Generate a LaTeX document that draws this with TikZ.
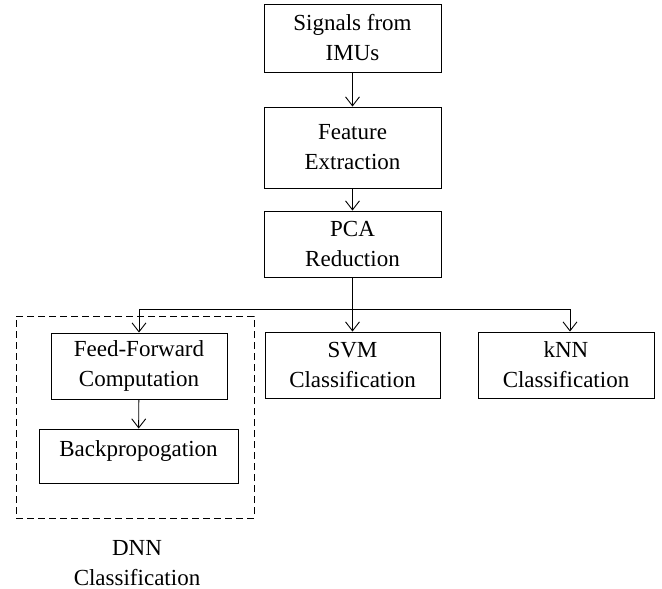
\documentclass[tikz,border=0pt]{standalone}
\usepackage{fontspec}
\setmainfont{Liberation Serif}
\usetikzlibrary{arrows.meta}

\begin{document}
\begin{tikzpicture}[x=1pt, y=-1pt,
		stage/.style={draw, thick, line width=0.9pt, align=center, inner sep=0pt,
			minimum width=177pt, minimum height=67pt,
			font=\fontsize{23}{30}\selectfont},
		flow/.style={line width=0.9pt, -{Straight Barb[length=9pt, width=14pt, line width=0.9pt]}}]
			\useasboundingbox (0,0) rectangle (662,589);

			% Obere Kette
			\node[stage, minimum height=68pt] (sig) at (352.5,38) {Signals from\\IMUs};
			\node[stage, minimum height=81pt] (feat) at (352.5,147.5) {Feature\\Extraction};
			\node[stage, minimum height=66pt] (pca) at (352.5,244) {PCA\\Reduction};

			% Klassifikatoren
			\node[stage, minimum width=175pt, minimum height=66pt] (svm) at (352.5,365) {SVM\\Classification};
			\node[stage, minimum width=176pt, minimum height=66pt] (knn) at (566,365) {kNN\\Classification};

			% DNN Kasten
			\node[stage, minimum width=176pt, minimum height=66pt] (ff) at (139,366) {Feed-Forward\\Computation};
			\node[stage, minimum width=199pt, minimum height=0pt, text height=27pt, text depth=27pt] (bp) at (138.5,456) {Backpropogation};
			\node[draw, dashed, line width=0.9pt, dash pattern=on 7pt off 4pt, minimum width=238pt, minimum height=202pt] (dnn) at (135,417) {};
			\node[align=center, font=\fontsize{23}{30}\selectfont] (dnnlab) at (137,563) {DNN\\Classification};

			% Verzweigung
			\coordinate (split) at (352.5,309);
			\coordinate (left) at (ff.north |- split);
			\coordinate (right) at (570,309);

			% Pfeile
			\draw[flow] (sig) -- (feat);
			\draw[flow] (feat) -- (pca);
			\draw[line width=0.9pt] (pca) -- (split);
			\draw[line width=0.9pt] (left) -- (right);
			\draw[flow] (left) -- (ff);
			\draw[flow] (split) -- (svm);
			\draw[flow] (right) -- (right |- knn.north);
			\draw[flow] (ff) -- (bp);
		\end{tikzpicture}
\end{document}
